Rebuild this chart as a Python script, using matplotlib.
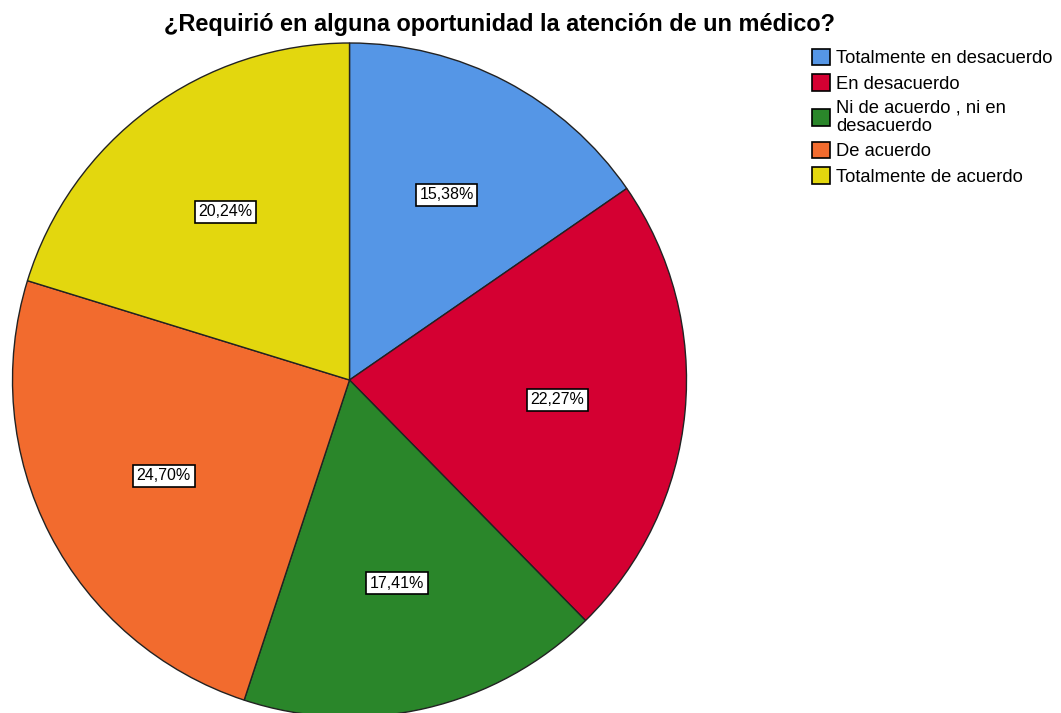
import matplotlib
matplotlib.use("Agg")
import matplotlib.pyplot as plt
from matplotlib.patches import Patch

categories = ["Totalmente en desacuerdo", "En desacuerdo", "Ni de acuerdo , ni en\ndesacuerdo",
              "De acuerdo", "Totalmente de acuerdo"]
values = [15.38, 22.27, 17.41, 24.70, 20.24]
colors = ["#5596E6", "#D40032", "#2A862A", "#F26B2E", "#E3D70E"]
title = "¿Requirió en alguna oportunidad la atención de un médico?"

W, H = 1061, 713
fig = plt.figure(figsize=(W / 100, H / 100), dpi=100)
fig.patch.set_facecolor("white")
plt.rcParams['font.family'] = ['Liberation Sans', 'DejaVu Sans']

cx, cy, r = 349.5, 380, 337
ax = fig.add_axes([(cx - r) / W, (H - cy - r) / H, 2 * r / W, 2 * r / H])
wedges, texts, autotexts = ax.pie(
    values, colors=colors, startangle=90, counterclock=False,
    autopct=lambda p: f"{p:.2f}%".replace(".", ","), pctdistance=0.62,
    wedgeprops=dict(edgecolor="#222222", linewidth=1.0),
    textprops=dict(fontsize=11.5, color="black"))
for t in autotexts:
    t.set_bbox(dict(facecolor="white", edgecolor="black", linewidth=1.2,
                    boxstyle="square,pad=0.22"))
ax.set_xlim(-1, 1)
ax.set_ylim(-1, 1)
ax.set_aspect("equal")
ax.axis("off")

fig.text(500 / W, 1 - 25 / H, title, ha="center", va="center", fontsize=16.9, fontweight="bold")

handles = [Patch(facecolor=c, edgecolor="black", linewidth=1.2) for c in colors]
leg = fig.legend(handles, categories, loc="upper left", bbox_to_anchor=(812 / W, 1 - 49 / H),
                 frameon=False, fontsize=13.2, handlelength=1.0, handleheight=1.0,
                 handletextpad=0.3, labelspacing=0.38, borderaxespad=0, borderpad=0)
for t in leg.get_texts():
    t.set_linespacing(1.08)

fig.savefig("out.png", dpi=100, facecolor="white")
